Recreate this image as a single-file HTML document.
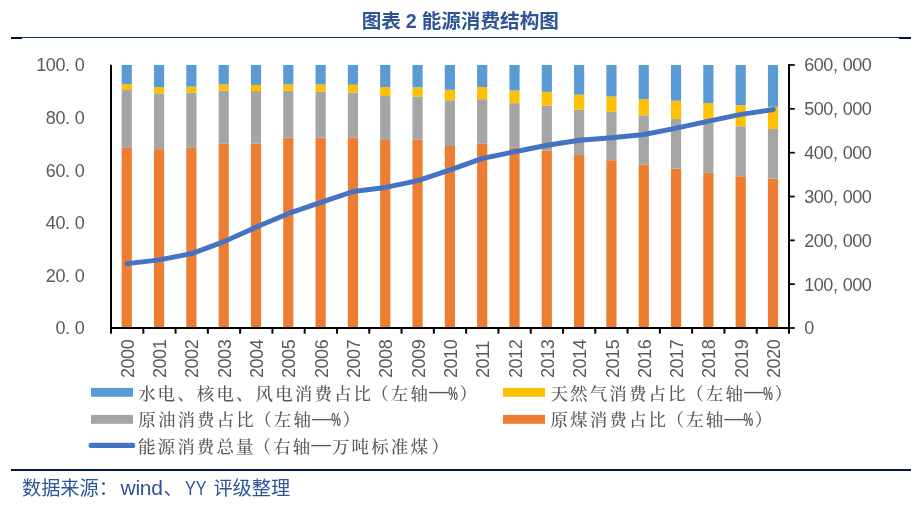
<!DOCTYPE html>
<html lang="zh"><head><meta charset="utf-8"><title>图表 2 能源消费结构图</title>
<style>
html,body{margin:0;padding:0;background:#fff;}
body{width:924px;height:508px;overflow:hidden;}
svg{display:block;}
.ax{font-family:"Liberation Sans",sans-serif;font-size:18.67px;fill:#595959;letter-spacing:-0.45px;word-spacing:0.6px;}
.lg{font-family:"Liberation Serif","Noto Serif CJK SC",serif;font-size:17.5px;fill:#595959;letter-spacing:2.1px;font-weight:500;}
.ds{font-family:"Liberation Sans","Noto Sans CJK SC",sans-serif;font-size:19.7px;letter-spacing:0;font-weight:400;}
.pc{font-family:"Liberation Sans","Noto Sans CJK SC",sans-serif;font-size:18.7px;letter-spacing:0;font-weight:700;}
.ti{font-family:"Liberation Sans","Noto Sans CJK SC",sans-serif;font-size:19.6px;font-weight:700;fill:#2F5496;word-spacing:-0.5px;}
.sr{font-family:"Liberation Sans","Noto Sans CJK SC",sans-serif;font-size:19.2px;fill:#2F5496;font-weight:400;}
</style></head><body>
<svg width="924" height="508" viewBox="0 0 924 508">
<rect width="924" height="508" fill="#fff"/>
<text class="ti" x="361.7" y="27.7">图表 2 能源消费结构图</text>
<rect x="11" y="37" width="900" height="1" fill="#0b3263"/>
<rect x="11" y="37" width="11" height="2" fill="#00103f"/>
<rect x="899" y="37" width="12" height="2" fill="#00103f"/>
<rect x="121.65" y="147.84" width="10.20" height="180.16" fill="#ED7D31"/>
<rect x="121.65" y="89.98" width="10.20" height="57.86" fill="#A5A5A5"/>
<rect x="121.65" y="84.20" width="10.20" height="5.79" fill="#FFC000"/>
<rect x="121.65" y="65.00" width="10.20" height="19.20" fill="#5B9BD5"/>
<rect x="153.96" y="149.16" width="10.20" height="178.84" fill="#ED7D31"/>
<rect x="153.96" y="93.40" width="10.20" height="55.76" fill="#A5A5A5"/>
<rect x="153.96" y="87.09" width="10.20" height="6.31" fill="#FFC000"/>
<rect x="153.96" y="65.00" width="10.20" height="22.09" fill="#5B9BD5"/>
<rect x="186.28" y="147.84" width="10.20" height="180.16" fill="#ED7D31"/>
<rect x="186.28" y="92.62" width="10.20" height="55.23" fill="#A5A5A5"/>
<rect x="186.28" y="86.57" width="10.20" height="6.05" fill="#FFC000"/>
<rect x="186.28" y="65.00" width="10.20" height="21.57" fill="#5B9BD5"/>
<rect x="218.59" y="143.37" width="10.20" height="184.63" fill="#ED7D31"/>
<rect x="218.59" y="90.51" width="10.20" height="52.86" fill="#A5A5A5"/>
<rect x="218.59" y="84.46" width="10.20" height="6.05" fill="#FFC000"/>
<rect x="218.59" y="65.00" width="10.20" height="19.46" fill="#5B9BD5"/>
<rect x="250.90" y="143.37" width="10.20" height="184.63" fill="#ED7D31"/>
<rect x="250.90" y="91.04" width="10.20" height="52.34" fill="#A5A5A5"/>
<rect x="250.90" y="84.99" width="10.20" height="6.05" fill="#FFC000"/>
<rect x="250.90" y="65.00" width="10.20" height="19.99" fill="#5B9BD5"/>
<rect x="283.21" y="137.59" width="10.20" height="190.41" fill="#ED7D31"/>
<rect x="283.21" y="90.77" width="10.20" height="46.81" fill="#A5A5A5"/>
<rect x="283.21" y="84.46" width="10.20" height="6.31" fill="#FFC000"/>
<rect x="283.21" y="65.00" width="10.20" height="19.46" fill="#5B9BD5"/>
<rect x="315.52" y="137.59" width="10.20" height="190.41" fill="#ED7D31"/>
<rect x="315.52" y="91.56" width="10.20" height="46.02" fill="#A5A5A5"/>
<rect x="315.52" y="84.46" width="10.20" height="7.10" fill="#FFC000"/>
<rect x="315.52" y="65.00" width="10.20" height="19.46" fill="#5B9BD5"/>
<rect x="347.84" y="137.33" width="10.20" height="190.67" fill="#ED7D31"/>
<rect x="347.84" y="92.62" width="10.20" height="44.71" fill="#A5A5A5"/>
<rect x="347.84" y="84.73" width="10.20" height="7.89" fill="#FFC000"/>
<rect x="347.84" y="65.00" width="10.20" height="19.72" fill="#5B9BD5"/>
<rect x="380.15" y="139.96" width="10.20" height="188.04" fill="#ED7D31"/>
<rect x="380.15" y="96.03" width="10.20" height="43.92" fill="#A5A5A5"/>
<rect x="380.15" y="87.09" width="10.20" height="8.94" fill="#FFC000"/>
<rect x="380.15" y="65.00" width="10.20" height="22.09" fill="#5B9BD5"/>
<rect x="412.46" y="139.69" width="10.20" height="188.31" fill="#ED7D31"/>
<rect x="412.46" y="96.56" width="10.20" height="43.13" fill="#A5A5A5"/>
<rect x="412.46" y="87.36" width="10.20" height="9.21" fill="#FFC000"/>
<rect x="412.46" y="65.00" width="10.20" height="22.36" fill="#5B9BD5"/>
<rect x="444.77" y="146.00" width="10.20" height="182.00" fill="#ED7D31"/>
<rect x="444.77" y="100.24" width="10.20" height="45.76" fill="#A5A5A5"/>
<rect x="444.77" y="89.72" width="10.20" height="10.52" fill="#FFC000"/>
<rect x="444.77" y="65.00" width="10.20" height="24.72" fill="#5B9BD5"/>
<rect x="477.09" y="143.37" width="10.20" height="184.63" fill="#ED7D31"/>
<rect x="477.09" y="99.19" width="10.20" height="44.18" fill="#A5A5A5"/>
<rect x="477.09" y="87.09" width="10.20" height="12.10" fill="#FFC000"/>
<rect x="477.09" y="65.00" width="10.20" height="22.09" fill="#5B9BD5"/>
<rect x="509.40" y="147.84" width="10.20" height="180.16" fill="#ED7D31"/>
<rect x="509.40" y="103.13" width="10.20" height="44.71" fill="#A5A5A5"/>
<rect x="509.40" y="90.51" width="10.20" height="12.62" fill="#FFC000"/>
<rect x="509.40" y="65.00" width="10.20" height="25.51" fill="#5B9BD5"/>
<rect x="541.71" y="150.74" width="10.20" height="177.26" fill="#ED7D31"/>
<rect x="541.71" y="105.76" width="10.20" height="44.97" fill="#A5A5A5"/>
<rect x="541.71" y="91.83" width="10.20" height="13.94" fill="#FFC000"/>
<rect x="541.71" y="65.00" width="10.20" height="26.83" fill="#5B9BD5"/>
<rect x="574.02" y="154.95" width="10.20" height="173.05" fill="#ED7D31"/>
<rect x="574.02" y="109.45" width="10.20" height="45.50" fill="#A5A5A5"/>
<rect x="574.02" y="94.72" width="10.20" height="14.73" fill="#FFC000"/>
<rect x="574.02" y="65.00" width="10.20" height="29.72" fill="#5B9BD5"/>
<rect x="606.34" y="160.21" width="10.20" height="167.79" fill="#ED7D31"/>
<rect x="606.34" y="111.81" width="10.20" height="48.39" fill="#A5A5A5"/>
<rect x="606.34" y="96.56" width="10.20" height="15.25" fill="#FFC000"/>
<rect x="606.34" y="65.00" width="10.20" height="31.56" fill="#5B9BD5"/>
<rect x="638.65" y="164.41" width="10.20" height="163.59" fill="#ED7D31"/>
<rect x="638.65" y="115.23" width="10.20" height="49.18" fill="#A5A5A5"/>
<rect x="638.65" y="99.19" width="10.20" height="16.04" fill="#FFC000"/>
<rect x="638.65" y="65.00" width="10.20" height="34.19" fill="#5B9BD5"/>
<rect x="670.96" y="168.62" width="10.20" height="159.38" fill="#ED7D31"/>
<rect x="670.96" y="118.92" width="10.20" height="49.71" fill="#A5A5A5"/>
<rect x="670.96" y="100.77" width="10.20" height="18.15" fill="#FFC000"/>
<rect x="670.96" y="65.00" width="10.20" height="35.77" fill="#5B9BD5"/>
<rect x="703.27" y="172.83" width="10.20" height="155.17" fill="#ED7D31"/>
<rect x="703.27" y="123.12" width="10.20" height="49.71" fill="#A5A5A5"/>
<rect x="703.27" y="103.14" width="10.20" height="19.99" fill="#FFC000"/>
<rect x="703.27" y="65.00" width="10.20" height="38.14" fill="#5B9BD5"/>
<rect x="735.59" y="176.25" width="10.20" height="151.75" fill="#ED7D31"/>
<rect x="735.59" y="126.28" width="10.20" height="49.97" fill="#A5A5A5"/>
<rect x="735.59" y="105.24" width="10.20" height="21.04" fill="#FFC000"/>
<rect x="735.59" y="65.00" width="10.20" height="40.24" fill="#5B9BD5"/>
<rect x="767.90" y="178.62" width="10.20" height="149.38" fill="#ED7D31"/>
<rect x="767.90" y="128.91" width="10.20" height="49.71" fill="#A5A5A5"/>
<rect x="767.90" y="106.82" width="10.20" height="22.09" fill="#FFC000"/>
<rect x="767.90" y="65.00" width="10.20" height="41.82" fill="#5B9BD5"/>
<polyline points="127.05,263.58 159.36,259.82 191.68,253.67 223.99,241.61 256.30,227.06 288.61,213.43 320.93,202.43 353.24,191.48 385.55,187.47 417.86,180.66 450.18,169.92 482.49,158.35 514.80,151.73 547.11,145.25 579.42,140.25 611.74,137.71 644.05,134.48 676.36,128.20 708.67,121.14 740.99,114.32 773.30,109.57" fill="none" stroke="#4472C4" stroke-width="4.9" stroke-linecap="round" stroke-linejoin="round"/>
<g fill="#000">
<rect x="110" y="64.80" width="2" height="264.20"/>
<rect x="788" y="64.00" width="2" height="265.00"/>
<rect x="110" y="327.00" width="680" height="2"/>
<rect x="110.00" y="329.00" width="2" height="4.7"/>
<rect x="142.29" y="329.00" width="2" height="4.7"/>
<rect x="174.57" y="329.00" width="2" height="4.7"/>
<rect x="206.86" y="329.00" width="2" height="4.7"/>
<rect x="239.14" y="329.00" width="2" height="4.7"/>
<rect x="271.43" y="329.00" width="2" height="4.7"/>
<rect x="303.71" y="329.00" width="2" height="4.7"/>
<rect x="336.00" y="329.00" width="2" height="4.7"/>
<rect x="368.29" y="329.00" width="2" height="4.7"/>
<rect x="400.57" y="329.00" width="2" height="4.7"/>
<rect x="432.86" y="329.00" width="2" height="4.7"/>
<rect x="465.14" y="329.00" width="2" height="4.7"/>
<rect x="497.43" y="329.00" width="2" height="4.7"/>
<rect x="529.71" y="329.00" width="2" height="4.7"/>
<rect x="562.00" y="329.00" width="2" height="4.7"/>
<rect x="594.29" y="329.00" width="2" height="4.7"/>
<rect x="626.57" y="329.00" width="2" height="4.7"/>
<rect x="658.86" y="329.00" width="2" height="4.7"/>
<rect x="691.14" y="329.00" width="2" height="4.7"/>
<rect x="723.43" y="329.00" width="2" height="4.7"/>
<rect x="755.71" y="329.00" width="2" height="4.7"/>
<rect x="788.00" y="329.00" width="2" height="4.7"/>
<rect x="790" y="327.15" width="4.8" height="1.7"/>
<rect x="790" y="283.32" width="4.8" height="1.7"/>
<rect x="790" y="239.48" width="4.8" height="1.7"/>
<rect x="790" y="195.65" width="4.8" height="1.7"/>
<rect x="790" y="151.82" width="4.8" height="1.7"/>
<rect x="790" y="107.98" width="4.8" height="1.7"/>
<rect x="790" y="64.15" width="4.8" height="1.7"/>
</g>
<text class="ax" transform="translate(84.3,334.45) scale(0.965,1)" text-anchor="end">0. 0</text>
<text class="ax" transform="translate(84.3,281.85) scale(0.965,1)" text-anchor="end">20. 0</text>
<text class="ax" transform="translate(84.3,229.25) scale(0.965,1)" text-anchor="end">40. 0</text>
<text class="ax" transform="translate(84.3,176.65) scale(0.965,1)" text-anchor="end">60. 0</text>
<text class="ax" transform="translate(84.3,124.05) scale(0.965,1)" text-anchor="end">80. 0</text>
<text class="ax" transform="translate(84.3,71.45) scale(0.965,1)" text-anchor="end">100. 0</text>
<text class="ax" transform="translate(804.2,334.45) scale(0.965,1)">0</text>
<text class="ax" transform="translate(804.2,290.62) scale(0.965,1)">100, 000</text>
<text class="ax" transform="translate(804.2,246.78) scale(0.965,1)">200, 000</text>
<text class="ax" transform="translate(804.2,202.95) scale(0.965,1)">300, 000</text>
<text class="ax" transform="translate(804.2,159.12) scale(0.965,1)">400, 000</text>
<text class="ax" transform="translate(804.2,115.28) scale(0.965,1)">500, 000</text>
<text class="ax" transform="translate(804.2,71.45) scale(0.965,1)">600, 000</text>
<text class="ax" transform="translate(133.85,378.1) rotate(-90) scale(0.965,1)">2000</text>
<text class="ax" transform="translate(166.16,378.1) rotate(-90) scale(0.965,1)">2001</text>
<text class="ax" transform="translate(198.47,378.1) rotate(-90) scale(0.965,1)">2002</text>
<text class="ax" transform="translate(230.79,378.1) rotate(-90) scale(0.965,1)">2003</text>
<text class="ax" transform="translate(263.10,378.1) rotate(-90) scale(0.965,1)">2004</text>
<text class="ax" transform="translate(295.41,378.1) rotate(-90) scale(0.965,1)">2005</text>
<text class="ax" transform="translate(327.73,378.1) rotate(-90) scale(0.965,1)">2006</text>
<text class="ax" transform="translate(360.04,378.1) rotate(-90) scale(0.965,1)">2007</text>
<text class="ax" transform="translate(392.35,378.1) rotate(-90) scale(0.965,1)">2008</text>
<text class="ax" transform="translate(424.66,378.1) rotate(-90) scale(0.965,1)">2009</text>
<text class="ax" transform="translate(456.98,378.1) rotate(-90) scale(0.965,1)">2010</text>
<text class="ax" transform="translate(489.29,378.1) rotate(-90) scale(0.965,1)">2011</text>
<text class="ax" transform="translate(521.60,378.1) rotate(-90) scale(0.965,1)">2012</text>
<text class="ax" transform="translate(553.91,378.1) rotate(-90) scale(0.965,1)">2013</text>
<text class="ax" transform="translate(586.23,378.1) rotate(-90) scale(0.965,1)">2014</text>
<text class="ax" transform="translate(618.54,378.1) rotate(-90) scale(0.965,1)">2015</text>
<text class="ax" transform="translate(650.85,378.1) rotate(-90) scale(0.965,1)">2016</text>
<text class="ax" transform="translate(683.16,378.1) rotate(-90) scale(0.965,1)">2017</text>
<text class="ax" transform="translate(715.48,378.1) rotate(-90) scale(0.965,1)">2018</text>
<text class="ax" transform="translate(747.79,378.1) rotate(-90) scale(0.965,1)">2019</text>
<text class="ax" transform="translate(780.10,378.1) rotate(-90) scale(0.965,1)">2020</text>
<rect x="91.0" y="387.9" width="42" height="8.9" fill="#5B9BD5"/>
<rect x="503.0" y="387.9" width="42" height="8.9" fill="#FFC000"/>
<rect x="91.0" y="414.9" width="42" height="8.9" fill="#A5A5A5"/>
<rect x="503.0" y="414.9" width="42" height="8.9" fill="#ED7D31"/>
<line x1="91.2" y1="445.4" x2="132.6" y2="445.4" stroke="#4472C4" stroke-width="5.2" stroke-linecap="round"/>
<text class="lg" x="138.00" y="399.80">水电、核电、风电消费占比<tspan x="371.20" y="399.80">（左轴</tspan><tspan class="ds" x="428.90" y="398.40">—</tspan><tspan class="pc" x="448.20" y="399.80" textLength="9.64" lengthAdjust="spacingAndGlyphs">%</tspan><tspan x="459.40" y="399.80">）</tspan></text>
<text class="lg" x="550.50" y="399.80">天然气消费占比<tspan x="686.20" y="399.80">（左轴</tspan><tspan class="ds" x="743.90" y="398.40">—</tspan><tspan class="pc" x="763.20" y="399.80" textLength="9.64" lengthAdjust="spacingAndGlyphs">%</tspan><tspan x="774.40" y="399.80">）</tspan></text>
<text class="lg" x="138.30" y="426.30">原油消费占比<tspan x="254.20" y="426.30">（左轴</tspan><tspan class="ds" x="311.90" y="424.90">—</tspan><tspan class="pc" x="331.20" y="426.30" textLength="9.64" lengthAdjust="spacingAndGlyphs">%</tspan><tspan x="342.40" y="426.30">）</tspan></text>
<text class="lg" x="550.50" y="426.30">原煤消费占比<tspan x="666.60" y="426.30">（左轴</tspan><tspan class="ds" x="724.30" y="424.90">—</tspan><tspan class="pc" x="743.60" y="426.30" textLength="9.64" lengthAdjust="spacingAndGlyphs">%</tspan><tspan x="754.80" y="426.30">）</tspan></text>
<text class="lg" x="138.00" y="452.70">能源消费总量<tspan x="253.60" y="452.70">（右轴</tspan><tspan class="ds" x="311.30" y="451.30">—</tspan><tspan x="332.00" y="452.70">万吨标准煤</tspan><tspan x="431.30" y="452.70">）</tspan></text>
<rect x="11" y="469" width="900" height="2" fill="#001a44"/>
<text class="sr" x="22" y="494.8">数据来源：<tspan x="120.6" font-size="21" letter-spacing="-0.3">wind</tspan><tspan x="163.5">、</tspan><tspan x="185.1" font-size="21" textLength="21.5" lengthAdjust="spacingAndGlyphs">YY</tspan><tspan x="206.8"> </tspan><tspan x="213.4">评级整理</tspan></text>
</svg></body></html>
